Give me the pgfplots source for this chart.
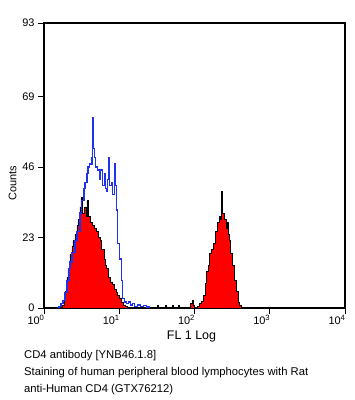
\documentclass[border=0pt]{standalone}
\usepackage{pgfplots}
\pgfplotsset{compat=1.18}
\usepackage{fontspec}
\setmainfont{Liberation Sans}
\definecolor{ctrlblue}{RGB}{30,50,240}
\begin{document}
\begin{tikzpicture}
\path (0bp,0bp) rectangle (355bp,400bp);
\begin{axis}[at={(44bp,92bp)}, anchor=south west, scale only axis,
  width=301bp, height=285bp,
  xmin=0, xmax=4, ymin=0, ymax=93,
  xtick={0,1,2,3,4},
  xticklabels={10\textsuperscript{0},10\textsuperscript{1},10\textsuperscript{2},10\textsuperscript{3},10\textsuperscript{4}},
  ytick={0,23,46,69,93},
  yticklabels={0,23,46,69,93},
  tick align=outside,
  xtick pos=bottom, ytick pos=left,
  major tick length=6bp,
  axis line style={line width=1.3pt},
  every tick/.style={black, line width=1pt},
  x tick label style={font=\fontsize{11}{11}\selectfont, anchor=north east, xshift=4bp, yshift=2bp},
  y tick label style={font=\fontsize{11}{11}\selectfont},
  xlabel={FL 1 Log},
  xlabel style={font=\fontsize{12.5}{12.5}\selectfont, yshift=1bp, xshift=-3bp},
  ylabel={Counts},
  ylabel style={font=\fontsize{11}{11}\selectfont, yshift=-1bp, xshift=-18bp},
  clip=true,
]
% CD4 stained sample (red filled)
\addplot[const plot, fill=red, draw=black, line width=0.6pt] coordinates {
(0.212,0) (0.238,1) (0.265,3) (0.278,5.5) (0.305,10) (0.318,13) (0.344,17.6)
(0.371,20) (0.384,22) (0.411,24) (0.437,27) (0.450,29) (0.477,33) (0.490,36)
(0.503,31) (0.530,33) (0.556,30) (0.570,35) (0.583,30) (0.609,28) (0.636,27)
(0.662,26) (0.689,25) (0.715,23) (0.742,22) (0.768,19) (0.795,16) (0.821,14)
(0.834,13) (0.861,10) (0.887,8.5) (0.914,7.8) (0.940,6) (0.967,5) (0.980,4)
(1.007,3.3) (1.033,2) (1.060,1) (1.086,0.5) (1.113,0)
} \closedcycle;
\addplot[const plot, fill=red, draw=black, line width=0.6pt] coordinates {
(1.934,0) (1.947,1.5) (1.974,2.5) (1.987,1) (2.000,0)
} \closedcycle;
\addplot[const plot, fill=red, draw=black, line width=0.6pt] coordinates {
(2.013,0) (2.040,0.5) (2.066,1.5) (2.093,2.3) (2.119,4) (2.146,8) (2.159,12)
(2.185,14) (2.199,18) (2.225,19) (2.252,21) (2.278,25) (2.305,28) (2.331,30)
(2.344,29) (2.358,38) (2.371,31) (2.397,29) (2.424,26) (2.437,28) (2.450,24)
(2.464,22) (2.477,18) (2.503,14) (2.530,9) (2.556,5.5) (2.583,2) (2.596,1)
(2.623,0)
} \closedcycle;
% scattered events along baseline
\addplot[const plot, draw=black, line width=0.8pt] coordinates {
(1.500,0) (1.510,0.8) (1.525,0) (1.600,0) (1.610,0.8) (1.625,0)
(1.700,0) (1.710,0.8) (1.725,0) (1.780,0) (1.790,0.8) (1.805,0)
};
% control (blue line)
\addplot[const plot, draw=ctrlblue, line width=1.3pt] coordinates {
(0.172,0) (0.199,0.5) (0.225,1.5) (0.252,2.5) (0.278,5) (0.305,9) (0.331,13)
(0.344,15) (0.371,18) (0.411,22) (0.437,25) (0.477,31) (0.503,35) (0.530,39)
(0.543,41) (0.570,44) (0.583,46) (0.609,47) (0.636,49) (0.649,62) (0.662,52)
(0.675,49) (0.689,46) (0.715,45) (0.742,42) (0.755,45) (0.781,40) (0.808,44)
(0.821,39) (0.834,38) (0.848,42) (0.861,49) (0.874,40) (0.901,41) (0.914,37)
(0.940,47) (0.954,40) (0.967,32) (0.980,21) (1.007,16) (1.033,9) (1.046,3)
(1.073,2) (1.099,1.5) (1.126,2) (1.152,1) (1.179,1.5) (1.205,0.5) (1.245,1)
(1.285,0.5) (1.325,0.8) (1.364,0.3) (1.404,0)
};
\end{axis}
\node[anchor=north west, align=left, inner sep=0pt, font=\fontsize{11.3}{17}\selectfont] at (24bp,50bp)
{CD4 antibody [YNB46.1.8]\\Staining of human peripheral blood lymphocytes with Rat\\anti-Human CD4 (GTX76212)};
\end{tikzpicture}
\end{document}
